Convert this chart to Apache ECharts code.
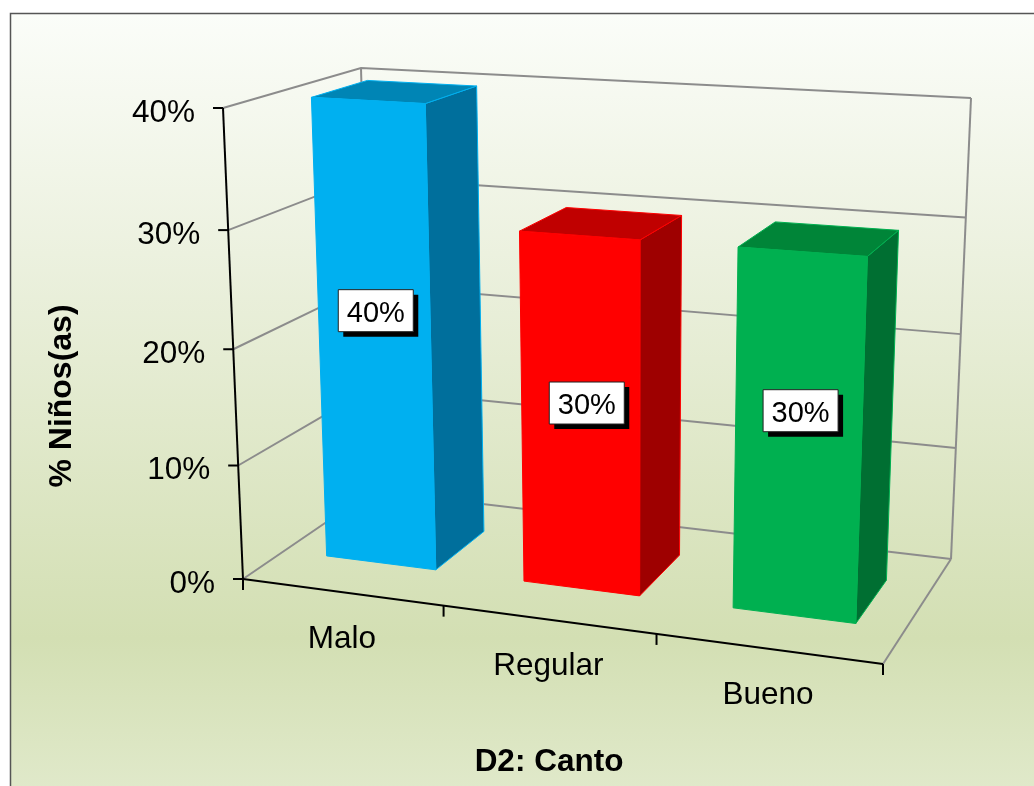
<!DOCTYPE html>
<html><head><meta charset="utf-8">
<style>html,body{margin:0;padding:0;background:#fff}#c{width:1034px;height:786px}</style>
<script src="https://cdn.jsdelivr.net/npm/echarts@6/dist/echarts.min.js"></script></head>
<body><div id="c"></div>
<script>
const categories = ['Malo', 'Regular', 'Bueno'];
const percentages = [40, 30, 30];
const yTicks = [0, 10, 20, 30, 40];
const xTickStops = [0, 1, 2, 3];
const yTitle = '% Niños(as)';
const xTitle = 'D2: Canto';

const FONT = '"Liberation Sans", Arial, sans-serif';
const GRID = {left: 100, top: 100, width: 600, height: 400};
const floorQuad = [[243,579],[883,664],[951,559],[372,491]];
const topQuad = [[223,108],[902,147],[971,98],[361,68]];
const barPalette = [
  {front:'#00B0F0', top:'#0085B5', side:'#006F9C'},
  {front:'#FF0000', top:'#C00000', side:'#9E0000'},
  {front:'#00B050', top:'#008538', side:'#006F32'}
];
const labelNudge = [[1,-21],[6,-9],[2,-23]];
const BAR_SHARE = 0.56, Z0 = 0.3, Z1 = 0.72, HEIGHT_K = 1.05;

function homography(q){
  const [p0,p1,p2,p3]=q;
  const dx1=p1[0]-p2[0],dx2=p3[0]-p2[0],sx=p0[0]-p1[0]+p2[0]-p3[0];
  const dy1=p1[1]-p2[1],dy2=p3[1]-p2[1],sy=p0[1]-p1[1]+p2[1]-p3[1];
  const det=dx1*dy2-dx2*dy1;
  const g=(sx*dy2-dx2*sy)/det,h=(dx1*sy-sx*dy1)/det;
  const a=p1[0]-p0[0]+g*p1[0],b=p3[0]-p0[0]+h*p3[0],c=p0[0];
  const d=p1[1]-p0[1]+g*p1[1],e=p3[1]-p0[1]+h*p3[1],f=p0[1];
  return (u,v)=>{const w=g*u+h*v+1;return [(a*u+b*v+c)/w,(d*u+e*v+f)/w];};
}
const floorMap = homography(floorQuad), topMap = homography(topQuad);
// grid pixel from the library's scales -> perspective picture
function project(gridPt, z){
  const u=(gridPt[0]-GRID.left)/GRID.width;
  const h=(GRID.top+GRID.height-gridPt[1])/GRID.height;
  const w=h/(h+HEIGHT_K*(1-h));
  const a=floorMap(u,z), b=topMap(u,z);
  return [a[0]+(b[0]-a[0])*w, a[1]+(b[1]-a[1])*w];
}
function line(pts,color,width){
  return {type:'polyline',shape:{points:pts},style:{stroke:color,lineWidth:width,fill:null}};
}
function gridX(api,cat){ // category-edge position from the band scale
  const band=api.size([1,0])[0];
  return api.coord([0,0])[0]-band/2+cat*band;
}
const GRAY='#8C8C8C', BLACK='#000';

const wallSeries={type:'custom',coordinateSystem:'cartesian2d',silent:true,z:2,clip:false,
  data:yTicks.map(v=>[0,v]),
  renderItem(params,api){
    const v=api.value(1);
    const y=api.coord([0,v])[1];
    const x0=GRID.left,x1=GRID.left+GRID.width;
    const a=project([x0,y],0),b=project([x0,y],1),c=project([x1,y],1);
    const ch=[line([a,b,c],GRAY,2)];
    ch.push(line([[a[0]-10,a[1]],a],BLACK,2));
    ch.push({type:'text',style:{text:v+'%',x:a[0]-28,y:a[1]+5,align:'right',verticalAlign:'middle',font:'31.5px '+FONT,fill:BLACK}});
    return {type:'group',children:ch};
  }};
const frameSeries={type:'custom',coordinateSystem:'cartesian2d',silent:true,z:3,clip:false,
  data:[[0,0]],
  renderItem(params,api){
    const y0=api.coord([0,0])[1],y1=api.coord([0,40])[1];
    const x0=GRID.left,x1=GRID.left+GRID.width;
    const P=(x,y,z)=>project([x,y],z);
    return {type:'group',children:[
      line([P(x0,y0,1),P(x0,y1,1)],GRAY,2),
      line([P(x1,y0,1),P(x1,y1,1)],GRAY,2),
      line([P(x1,y0,0),P(x1,y0,1)],GRAY,2),
      line([P(x0,y0,0),P(x0,y1,0)],BLACK,2),
      line([P(x0,y0,0),P(x1,y0,0)],BLACK,2)
    ]};
  }};
const xTickSeries={type:'custom',coordinateSystem:'cartesian2d',silent:true,z:4,clip:false,
  data:xTickStops.map(s=>[s,0]),
  renderItem(params,api){
    const y0=api.coord([0,0])[1];
    const p=project([gridX(api,api.value(0)),y0],0);
    return line([p,[p[0],p[1]+11]],BLACK,2);
  }};
const catSeries={type:'custom',coordinateSystem:'cartesian2d',silent:true,z:4,clip:false,
  data:categories.map((c,i)=>[i,0]),
  renderItem(params,api){
    const p=project(api.coord([api.value(0),0]),0);
    return {type:'text',style:{text:categories[params.dataIndex],x:p[0],y:p[1]+47,align:'center',verticalAlign:'middle',font:'31.5px '+FONT,fill:BLACK}};
  }};
const barSeries={type:'custom',coordinateSystem:'cartesian2d',silent:true,z:5,clip:false,
  data:categories.map((c,i)=>[i,percentages[i]]),
  renderItem(params,api){
    const i=params.dataIndex, col=barPalette[i];
    const top=api.coord([api.value(0),api.value(1)]), base=api.coord([api.value(0),0]);
    const hw=api.size([1,0])[0]*BAR_SHARE/2;
    const L=top[0]-hw,R=top[0]+hw;
    const fbl=project([L,base[1]],Z0),fbr=project([R,base[1]],Z0),bbr=project([R,base[1]],Z1);
    const ftl=project([L,top[1]],Z0),ftr=project([R,top[1]],Z0),btr=project([R,top[1]],Z1),btl=project([L,top[1]],Z1);
    const poly=(pts,fill)=>({type:'polygon',shape:{points:pts},style:{fill:fill,stroke:col.front,lineWidth:1}});
    const cx=(ftl[0]+ftr[0]+fbl[0]+fbr[0])/4+labelNudge[i][0], cy=(ftl[1]+ftr[1]+fbl[1]+fbr[1])/4+labelNudge[i][1];
    const BW=75,BH=42;
    return {type:'group',children:[
      poly([ftr,btr,bbr,fbr],col.side),
      poly([ftl,btl,btr,ftr],col.top),
      poly([ftl,ftr,fbr,fbl],col.front),
      {type:'rect',shape:{x:cx-BW/2+5,y:cy-BH/2+5,width:BW,height:BH},style:{fill:BLACK}},
      {type:'rect',shape:{x:cx-BW/2,y:cy-BH/2,width:BW,height:BH},style:{fill:'#fff',stroke:'#222',lineWidth:1}},
      {type:'text',style:{text:api.value(1)+'%',x:cx,y:cy+3,align:'center',verticalAlign:'middle',font:'29px '+FONT,fill:BLACK}}
    ]};
  }};

const chart=echarts.init(document.getElementById('c'),null,{renderer:'canvas',width:1034,height:786});
chart.setOption({
  animation:false,
  grid:GRID,
  xAxis:{type:'category',data:categories,show:false},
  yAxis:{type:'value',min:0,max:40,interval:10,show:false},
  graphic:[
    {type:'rect',z:-10,silent:true,shape:{x:10.5,y:13.5,width:1040,height:800},
     style:{stroke:'#555',lineWidth:1.5,fill:{type:'linear',x:0,y:0,x2:0,y2:1,colorStops:[
       {offset:0,color:'#FBFDF9'},{offset:0.3,color:'#ECF1DF'},{offset:0.78,color:'#D3DFB3'},{offset:0.97,color:'#E0E9CA'},{offset:1,color:'#E0E9CA'}]}}},
    {type:'text',z:10,silent:true,x:62,y:396,rotation:Math.PI/2,style:{text:yTitle,align:'center',verticalAlign:'middle',font:'bold 32px '+FONT,fill:BLACK}},
    {type:'text',z:10,silent:true,x:549,y:762,style:{text:xTitle,align:'center',verticalAlign:'middle',font:'bold 31.5px '+FONT,fill:BLACK}}
  ],
  series:[wallSeries,frameSeries,xTickSeries,catSeries,barSeries]
});
</script></body></html>
